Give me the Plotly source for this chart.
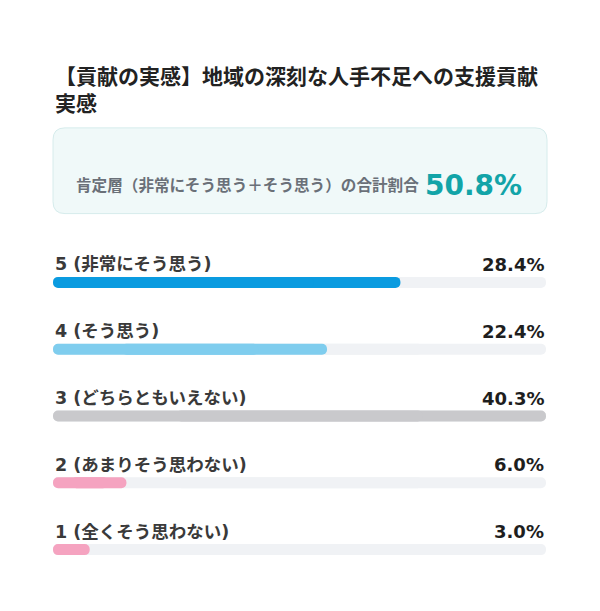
import plotly.graph_objects as go

# ---- data ----
categories = ["5 (非常にそう思う)", "4 (そう思う)", "3 (どちらともいえない)", "2 (あまりそう思わない)", "1 (全くそう思わない)"]
values = [28.4, 22.4, 40.3, 6.0, 3.0]
bar_colors = ["#0a9be0", "#7fcdee", "#c9c9cc", "#f5a3c0", "#f5a3c0"]
title_text = "【貢献の実感】地域の深刻な人手不足への支援貢献<br>実感"
summary_label = "肯定層（非常にそう思う＋そう思う）の合計割合"
summary_value = "50.8%"

W, H = 600, 611
ML, MR, MT, MB = 53, 54, 248.5, 27.5
PH = H - MT - MB
PW = W - ML - MR

def py(p):  # pixel y -> paper y
    return (H - MB - p) / PH

def px(p):  # pixel x -> paper x
    return (p - ML) / PW

vmax = max(values)
ypos = list(range(len(categories)))
BW = 0.165

def pill(fig, vals, colors):
    # two strongly overlapping halves so both ends get the rounded tip
    fig.add_trace(go.Bar(
        x=[v * 0.75 for v in vals], base=[v * 0.25 for v in vals], y=ypos, orientation="h",
        marker=dict(color=colors, line=dict(width=0)), width=BW,
        showlegend=False, hoverinfo="skip",
    ))
    fig.add_trace(go.Bar(
        x=[-v * 0.75 for v in vals], base=[v * 0.75 for v in vals], y=ypos, orientation="h",
        marker=dict(color=colors, line=dict(width=0)), width=BW,
        showlegend=False, hoverinfo="skip",
    ))

fig = go.Figure()
pill(fig, [vmax] * len(values), ["#f0f2f5"] * len(values))
pill(fig, values, bar_colors)

annotations = []
for i, (c, v) in enumerate(zip(categories, values)):
    annotations.append(dict(
        x=0, xref="paper", y=i, yref="y", yshift=18,
        text=c, showarrow=False, xanchor="left", yanchor="middle",
        font=dict(family="DejaVu Sans, Noto Sans CJK JP", size=17.5, color="#3a3a3a", weight="bold"),
    ))
    annotations.append(dict(
        x=1, xref="paper", y=i, yref="y", yshift=18,
        text=f"{v:.1f}%", showarrow=False, xanchor="right", yanchor="middle",
        font=dict(family="DejaVu Sans", size=18, color="#1e1e1e", weight="bold"),
    ))

annotations.append(dict(
    x=0, xref="paper", y=py(88), yref="paper", text=title_text,
    showarrow=False, xanchor="left", yanchor="middle", align="left",
    font=dict(family="Noto Sans CJK JP", size=21, color="#222222", weight="bold"),
))
annotations.append(dict(
    x=px(74), xref="paper", y=py(183), yref="paper", text=summary_label,
    showarrow=False, xanchor="left", yanchor="middle",
    font=dict(family="Noto Sans CJK JP", size=15.6, color="#6a7078", weight="bold"),
))
annotations.append(dict(
    x=px(524), xref="paper", y=py(185), yref="paper", text=summary_value,
    showarrow=False, xanchor="right", yanchor="middle",
    font=dict(family="DejaVu Sans", size=28, color="#12a4a8", weight="bold"),
))

# rounded box
bx0, bx1, by0, by1, r = 53, 547, 127, 213, 12
def P(x, y):
    return f"{px(x):.5f},{py(y):.5f}"
path = (f"M {P(bx0 + r, by0)} L {P(bx1 - r, by0)} Q {P(bx1, by0)} {P(bx1, by0 + r)} "
        f"L {P(bx1, by1 - r)} Q {P(bx1, by1)} {P(bx1 - r, by1)} "
        f"L {P(bx0 + r, by1)} Q {P(bx0, by1)} {P(bx0, by1 - r)} "
        f"L {P(bx0, by0 + r)} Q {P(bx0, by0)} {P(bx0 + r, by0)} Z")

fig.update_layout(
    width=W, height=H, autosize=False,
    margin=dict(l=ML, r=MR, t=MT, b=MB, pad=0),
    paper_bgcolor="white", plot_bgcolor="white",
    barmode="overlay", barcornerradius="50%",
    xaxis=dict(range=[0, vmax], visible=False, fixedrange=True),
    yaxis=dict(range=[len(categories) - 0.5, -0.5], visible=False, fixedrange=True),
    annotations=annotations,
    shapes=[dict(type="path", path=path, xref="paper", yref="paper",
                 fillcolor="#f0f9f9", line=dict(color="#d6ecec", width=1), layer="below")],
)

fig.write_html("out.html")
